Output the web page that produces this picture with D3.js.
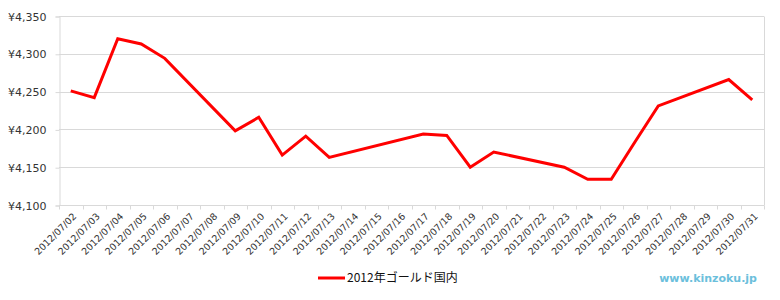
<!DOCTYPE html>
<html>
<head>
<meta charset="utf-8">
<script src="https://cdn.jsdelivr.net/npm/d3@7"></script>
<style>
body { margin: 0; background: #fff; }
svg { font-family: "DejaVu Sans", "Noto Sans CJK JP", sans-serif; }
</style>
</head>
<body>
<svg id="chart" width="780" height="300"></svg>
<script>
// 2012/07 daily prices (null = no quote, weekend/holiday)
var dates = ['2012/07/02','2012/07/03','2012/07/04','2012/07/05','2012/07/06','2012/07/07','2012/07/08',
    '2012/07/09','2012/07/10','2012/07/11','2012/07/12','2012/07/13','2012/07/14','2012/07/15','2012/07/16',
    '2012/07/17','2012/07/18','2012/07/19','2012/07/20','2012/07/21','2012/07/22','2012/07/23','2012/07/24',
    '2012/07/25','2012/07/26','2012/07/27','2012/07/28','2012/07/29','2012/07/30','2012/07/31'];
var prices = [4251, 4242, 4320, 4313, 4294, null, null,
    4198, 4216, 4166, 4191, 4163, null, null, null,
    4194, 4192, 4150, 4170, null, null, 4150, 4134,
    4134, 4183, 4231, null, null, 4266, 4239];
var yTicks = [4100, 4150, 4200, 4250, 4300, 4350];
var seriesName = '2012年ゴールド国内';

d3.select(window).on('load', draw);

function draw() {
    var svg = d3.select('#chart');
    var left = 59, right = 764, plotTop = 16, bottom = 205;

    var xScale = d3.scaleBand()
        .domain(dates)
        .range([left, right]);

    var yScale = d3.scaleLinear()
        .domain([4100, 4350])
        .range([bottom, plotTop]);

    // grid
    svg.append('g')
        .selectAll('line')
        .data(yTicks)
        .enter()
        .append('line')
        .attr('x1', left)
        .attr('x2', right)
        .attr('y1', function(d){ return Math.round(yScale(d)) + 0.5; })
        .attr('y2', function(d){ return Math.round(yScale(d)) + 0.5; })
        .attr('stroke', '#d9d9d9');

    // right border
    svg.append('line')
        .attr('x1', right + 0.5).attr('x2', right + 0.5)
        .attr('y1', Math.round(yScale(4350)) + 0.5).attr('y2', Math.round(yScale(4100)) + 0.5)
        .attr('stroke', '#d9d9d9');

    // y axis
    var yAxis = svg.append('g')
        .attr('transform', 'translate(' + (left + 0.5) + ',0.5)')
        .call(d3.axisLeft(yScale)
            .tickValues(yTicks)
            .tickSize(4)
            .tickPadding(9)
            .tickFormat(function(d){ return '¥' + d3.format(',')(d); }));
    yAxis.select('.domain').attr('stroke', '#d9d9d9');
    yAxis.selectAll('.tick line').attr('stroke', '#d9d9d9');
    yAxis.selectAll('text')
        .attr('fill', '#333')
        .style('font-size', '11px')
        .style('font-family', '"DejaVu Sans", sans-serif');

    // x axis, ticks between categories
    var xAxis = svg.append('g')
        .attr('transform', 'translate(0,' + (Math.round(bottom) + 0.5) + ')');
    xAxis.append('line')
        .attr('x1', left).attr('x2', right)
        .attr('stroke', '#d9d9d9');
    xAxis.selectAll('line.tk')
        .data(dates.concat(['end']))
        .enter()
        .append('line')
        .attr('class', 'tk')
        .attr('x1', function(d, i){ return Math.round(left + i * xScale.bandwidth()) + 0.5; })
        .attr('x2', function(d, i){ return Math.round(left + i * xScale.bandwidth()) + 0.5; })
        .attr('y1', 0)
        .attr('y2', 4)
        .attr('stroke', '#d9d9d9');
    xAxis.selectAll('text')
        .data(dates)
        .enter()
        .append('text')
        .attr('transform', function(d){
            return 'translate(' + (xScale(d) + xScale.bandwidth() / 2 + 4) + ',9) rotate(-45)';
        })
        .attr('text-anchor', 'end')
        .attr('dy', '0.35em')
        .attr('fill', '#333')
        .style('font-size', '9.5px')
        .text(function(d){ return d; });

    // line
    var pts = dates.map(function(d, i){ return {date: d, price: prices[i]}; })
        .filter(function(d){ return d.price !== null; });

    var line = d3.line()
        .x(function(d){ return xScale(d.date) + xScale.bandwidth() / 2; })
        .y(function(d){ return yScale(d.price); });

    svg.append('path')
        .datum(pts)
        .attr('d', line)
        .attr('fill', 'none')
        .attr('stroke', '#ff0000')
        .attr('stroke-width', 3);

    // legend
    svg.append('line')
        .attr('x1', 318).attr('x2', 345)
        .attr('y1', 278).attr('y2', 278)
        .attr('stroke', '#ff0000')
        .attr('stroke-width', 3);
    svg.append('text')
        .attr('x', 347)
        .attr('y', 278)
        .attr('dy', '0.35em')
        .style('font-size', '12px')
        .style('font-family', '"Noto Sans CJK JP", sans-serif')
        .attr('fill', '#111')
        .text(seriesName);

    // watermark
    svg.append('text')
        .attr('x', 757)
        .attr('y', 278)
        .attr('dy', '0.35em')
        .attr('text-anchor', 'end')
        .style('font-size', '11px')
        .style('font-weight', 'bold')
        .attr('fill', '#6cbfdc')
        .text('www.kinzoku.jp');
}
</script>
</body>
</html>
